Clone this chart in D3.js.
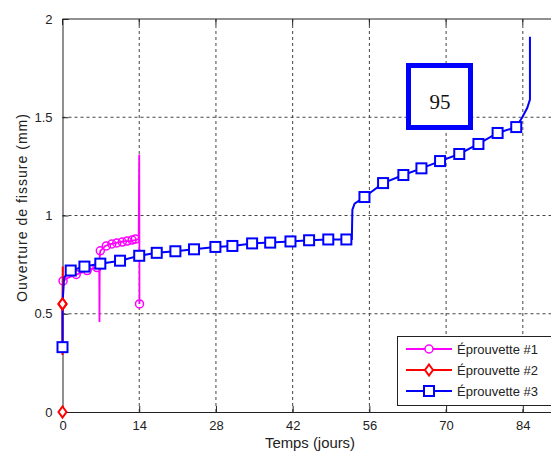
<!DOCTYPE html>
<html><head><meta charset="utf-8">
<script src="https://cdn.jsdelivr.net/npm/d3@7"></script>
<style>body{margin:0;background:#fff}svg{display:block}</style>
</head><body>
<svg id="c" width="551" height="453"></svg>
<script>
// ---- data ----
const xTicks = [0, 14, 28, 42, 56, 70, 84];
const yTicks = [0, 0.5, 1, 1.5, 2];
const yTickLabels = ["0", "0.5", "1", "1.5", "2"];
const seriesNames = ["Éprouvette #1", "Éprouvette #2", "Éprouvette #3"];
const seriesColors = ["#ff00ff", "#ff0000", "#0000ff"];

// Éprouvette #1 (magenta)
const s1Days = [0.1, 0.8, 1.6, 2.6, 3.6, 4.6, 5.5, 6.4, 6.7, 6.75, 6.8, 6.9, 7.8, 8.7, 9.6, 10.5, 11.4, 12.3, 13.2, 13.9, 14.0, 14.05];
const s1Vals = [0.667, 0.68, 0.69, 0.70, 0.71, 0.72, 0.73, 0.74, 0.74, 0.458, 0.80, 0.82, 0.845, 0.855, 0.86, 0.865, 0.87, 0.87, 0.875, 0.88, 1.31, 0.55];
const s1MarkDays = [0.1, 2.5, 4.5, 6.3, 6.9, 8.0, 9.0, 9.9, 10.9, 11.8, 12.7, 13.3, 14.05];
const s1MarkVals = [0.667, 0.70, 0.72, 0.735, 0.82, 0.845, 0.855, 0.86, 0.865, 0.87, 0.875, 0.88, 0.55];

// Éprouvette #2 (red)
const s2Days = [0, 0, 0.05];
const s2Vals = [0.29, 0.55, 0.74];
const s2MarkDays = [0, 0];
const s2MarkVals = [0, 0.55];

// Éprouvette #3 (blue)
const s3Days = [0, 0, 0.3, 0.8, 1.5, 4, 6.9, 10.5, 14, 17.2, 20.6, 24, 27.9, 31, 34.6, 37.9, 41.6, 45, 48.5, 51.8, 52.8, 52.9, 53.3, 55.1, 58.5, 62.2, 65.5, 68.9, 72.4, 75.9, 79.4, 82.8, 83.9, 84.8, 85.3, 85.3];
const s3Vals = [0.33, 0.55, 0.685, 0.70, 0.72, 0.74, 0.755, 0.77, 0.795, 0.81, 0.818, 0.828, 0.84, 0.845, 0.858, 0.862, 0.868, 0.874, 0.878, 0.878, 0.88, 1.03, 1.06, 1.094, 1.165, 1.206, 1.24, 1.277, 1.313, 1.364, 1.42, 1.45, 1.50, 1.547, 1.59, 1.91];
const s3MarkDays = [0, 1.5, 4, 6.9, 10.5, 14, 17.2, 20.6, 24, 27.9, 31, 34.6, 37.9, 41.6, 45, 48.5, 51.8, 55.1, 58.5, 62.2, 65.5, 68.9, 72.4, 75.9, 79.4, 82.8];
const s3MarkVals = [0.33, 0.72, 0.74, 0.755, 0.77, 0.795, 0.81, 0.818, 0.828, 0.84, 0.845, 0.858, 0.862, 0.868, 0.874, 0.878, 0.878, 1.094, 1.165, 1.206, 1.24, 1.277, 1.313, 1.364, 1.42, 1.45];

const annotationText = "95";

// ---- drawing ----
const svg = d3.select("#c");
const L = 62.5, T = 19, B = 412, R = 555.7;
const x = d3.scaleLinear().domain([0, 90]).range([L, R]);
const y = d3.scaleLinear().domain([0, 2]).range([B, T]);
const textCol = "#222";
const font = "Arial, 'Liberation Sans', sans-serif";

// grid
const g = svg.append("g");
g.selectAll(".vg").data(xTicks.filter(d => d > 0)).enter().append("line")
  .attr("x1", d => x(d)).attr("x2", d => x(d)).attr("y1", T).attr("y2", B)
  .attr("stroke", "#444").attr("stroke-dasharray", "3,3").attr("stroke-width", 1);
g.selectAll(".hg").data(yTicks.filter(d => d > 0 && d < 2)).enter().append("line")
  .attr("x1", L).attr("x2", R).attr("y1", d => y(d)).attr("y2", d => y(d))
  .attr("stroke", "#444").attr("stroke-dasharray", "3,3").attr("stroke-width", 1);

// axes (MATLAB style, inward ticks)
const xAxis = d3.axisBottom(x).tickValues(xTicks).tickSize(-6).tickPadding(9).tickFormat(d3.format("d"));
const yAxis = d3.axisLeft(y).tickValues(yTicks).tickSize(-6).tickPadding(10).tickFormat((d, i) => yTickLabels[i]);
const gx = svg.append("g").attr("transform", `translate(0,${B})`).call(xAxis);
const gy = svg.append("g").attr("transform", `translate(${L},0)`).call(yAxis);
[gx, gy].forEach(a => {
  a.select(".domain").attr("stroke", "#222").attr("stroke-width", 1);
  a.selectAll(".tick line").attr("stroke", "#222");
  a.selectAll("text").attr("fill", textCol).style("font-family", font).style("font-size", "13px");
});
gx.select(".domain").attr("d", `M${L},0.5H${R}`);
// top border
svg.append("line").attr("x1", L).attr("x2", R).attr("y1", T).attr("y2", T).attr("stroke", "#222");
// top ticks
svg.selectAll(".tt").data(xTicks).enter().append("line")
  .attr("x1", d => x(d)).attr("x2", d => x(d)).attr("y1", T).attr("y2", T + 6).attr("stroke", "#222");

// axis labels
svg.append("text").attr("x", 310).attr("y", 448).attr("text-anchor", "middle")
  .attr("fill", textCol).style("font-family", font).style("font-size", "14px")
  .attr("textLength", 90).attr("lengthAdjust", "spacingAndGlyphs").text("Temps (jours)");
svg.append("text").attr("transform", "translate(27,208) rotate(-90)").attr("text-anchor", "middle")
  .attr("fill", textCol).style("font-family", font).style("font-size", "14px")
  .attr("textLength", 188).attr("lengthAdjust", "spacing").text("Ouverture de fissure (mm)");

// annotation box
svg.append("rect").attr("x", 408.5).attr("y", 65.5).attr("width", 62).attr("height", 62)
  .attr("fill", "#fff").attr("stroke", "#0000ff").attr("stroke-width", 5);
svg.append("text").attr("x", 440).attr("y", 109).attr("text-anchor", "middle")
  .attr("fill", "#111").style("font-family", "'Liberation Serif', 'Times New Roman', serif").style("font-size", "21px")
  .text(annotationText);

const zip = (a, b) => a.map((d, i) => [d, b[i]]);
const line = d3.line().x(d => x(d[0])).y(d => y(d[1]));
const plot = svg.append("g");
const diamond = (cx, cy) => `M${cx},${cy - 5.5}L${cx + 4},${cy}L${cx},${cy + 5.5}L${cx - 4},${cy}Z`;

// series 1
plot.append("path").datum(zip(s1Days, s1Vals)).attr("d", line).attr("fill", "none")
  .attr("stroke", seriesColors[0]).attr("stroke-width", 1.8);
plot.selectAll(".m1").data(zip(s1MarkDays, s1MarkVals)).enter().append("circle")
  .attr("cx", d => x(d[0])).attr("cy", d => y(d[1])).attr("r", 4)
  .attr("fill", "none").attr("stroke", seriesColors[0]).attr("stroke-width", 1.5);

// series 2
plot.append("path").datum(zip(s2Days, s2Vals)).attr("d", line).attr("fill", "none")
  .attr("stroke", seriesColors[1]).attr("stroke-width", 2);
plot.selectAll(".m2").data(zip(s2MarkDays, s2MarkVals)).enter().append("path")
  .attr("d", d => diamond(x(d[0]), y(d[1])))
  .attr("fill", "#fff").attr("stroke", seriesColors[1]).attr("stroke-width", 2);

// series 3
plot.append("path").datum(zip(s3Days, s3Vals)).attr("d", line).attr("fill", "none")
  .attr("stroke", seriesColors[2]).attr("stroke-width", 2);
plot.selectAll(".m3").data(zip(s3MarkDays, s3MarkVals)).enter().append("rect")
  .attr("x", d => x(d[0]) - 5).attr("y", d => y(d[1]) - 5).attr("width", 10).attr("height", 10)
  .attr("fill", "#fff").attr("stroke", seriesColors[2]).attr("stroke-width", 2);
// red diamond at 0.55 visible above blue line
plot.append("path").attr("d", diamond(x(s2MarkDays[1]), y(s2MarkVals[1])))
  .attr("fill", "#fff").attr("stroke", seriesColors[1]).attr("stroke-width", 2);

// legend
const lg = svg.append("g");
lg.append("rect").attr("x", 397.5).attr("y", 336.5).attr("width", 170).attr("height", 69)
  .attr("fill", "#fff").attr("stroke", "#222").attr("stroke-width", 1);
const rowsY = [349, 370, 391];
seriesNames.forEach((name, i) => {
  const yy = rowsY[i];
  lg.append("line").attr("x1", 406).attr("x2", 452).attr("y1", yy).attr("y2", yy)
    .attr("stroke", seriesColors[i]).attr("stroke-width", 2);
  if (i === 0) lg.append("circle").attr("cx", 429).attr("cy", yy).attr("r", 4)
    .attr("fill", "#fff").attr("stroke", seriesColors[i]).attr("stroke-width", 1.5);
  if (i === 1) lg.append("path").attr("d", diamond(429, yy))
    .attr("fill", "#fff").attr("stroke", seriesColors[i]).attr("stroke-width", 2);
  if (i === 2) lg.append("rect").attr("x", 424).attr("y", yy - 5).attr("width", 10).attr("height", 10)
    .attr("fill", "#fff").attr("stroke", seriesColors[i]).attr("stroke-width", 2);
  lg.append("text").attr("x", 457).attr("y", yy + 5).attr("fill", textCol)
    .style("font-family", font).style("font-size", "13px").text(name);
});
</script>
</body></html>
